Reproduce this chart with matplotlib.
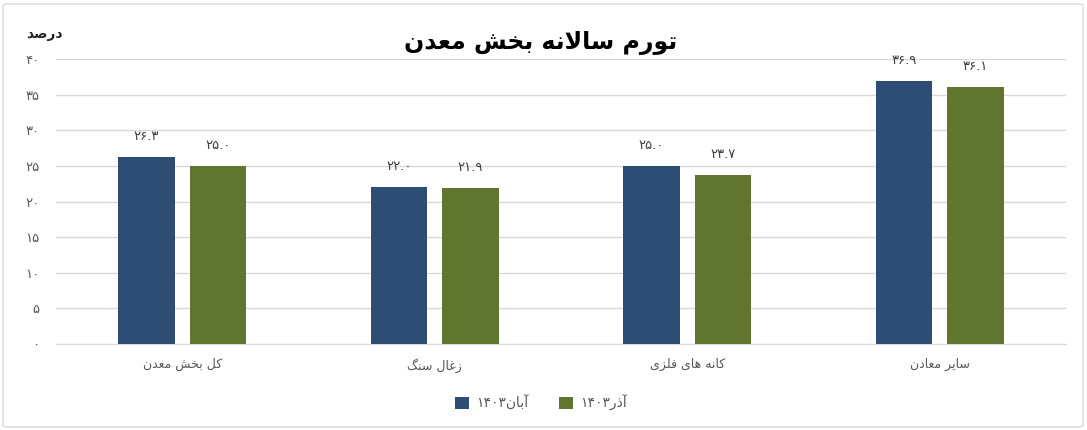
import matplotlib
matplotlib.use("Agg")
import matplotlib.pyplot as plt
import numpy as np
from matplotlib.patches import FancyBboxPatch, Patch

plt.rcParams['font.family'] = ['DejaVu Sans']

# ---------------- data ----------------
categories = ["کل بخش معدن", "زغال سنگ", "کانه های فلزی", "سایر معادن"]
aban_1403 = [26.3, 22.0, 25.0, 36.9]
azar_1403 = [25.0, 21.9, 23.7, 36.1]
series_names = ["آبان", "آذر"]
series_year = "1403"
yticks = [0, 5, 10, 15, 20, 25, 30, 35, 40]
title_text = "تورم سالانه بخش معدن"
ylabel_text = "درصد"

# ------------- minimal Persian shaping (presentation forms, visual order) -------------
FORMS = {
    '\u0622': ('\uFE81', '\uFE82', None, None),
    '\u0627': ('\uFE8D', '\uFE8E', None, None),
    '\u0628': ('\uFE8F', '\uFE90', '\uFE91', '\uFE92'),
    '\u062A': ('\uFE95', '\uFE96', '\uFE97', '\uFE98'),
    '\u062E': ('\uFEA5', '\uFEA6', '\uFEA7', '\uFEA8'),
    '\u062F': ('\uFEA9', '\uFEAA', None, None),
    '\u0630': ('\uFEAB', '\uFEAC', None, None),
    '\u0631': ('\uFEAD', '\uFEAE', None, None),
    '\u0632': ('\uFEAF', '\uFEB0', None, None),
    '\u0633': ('\uFEB1', '\uFEB2', '\uFEB3', '\uFEB4'),
    '\u0634': ('\uFEB5', '\uFEB6', '\uFEB7', '\uFEB8'),
    '\u0635': ('\uFEB9', '\uFEBA', '\uFEBB', '\uFEBC'),
    '\u0639': ('\uFEC9', '\uFECA', '\uFECB', '\uFECC'),
    '\u063A': ('\uFECD', '\uFECE', '\uFECF', '\uFED0'),
    '\u0641': ('\uFED1', '\uFED2', '\uFED3', '\uFED4'),
    '\u0644': ('\uFEDD', '\uFEDE', '\uFEDF', '\uFEE0'),
    '\u0645': ('\uFEE1', '\uFEE2', '\uFEE3', '\uFEE4'),
    '\u0646': ('\uFEE5', '\uFEE6', '\uFEE7', '\uFEE8'),
    '\u0647': ('\uFEE9', '\uFEEA', '\uFEEB', '\uFEEC'),
    '\u0648': ('\uFEED', '\uFEEE', None, None),
    '\u06A9': ('\uFB8E', '\uFB8F', '\uFB90', '\uFB91'),
    '\u06AF': ('\uFB92', '\uFB93', '\uFB94', '\uFB95'),
    '\u06CC': ('\uFBFC', '\uFBFD', '\uFBFE', '\uFBFF'),
}


def shape(text):
    chars = list(text)
    tokens = []
    i = 0
    while i < len(chars):
        c = chars[i]
        if c == '\u0644' and i + 1 < len(chars) and chars[i + 1] in ('\u0627', '\u0622'):
            tokens.append('LA' + chars[i + 1])
            i += 2
        else:
            tokens.append(c)
            i += 1
    res = []
    for k, t in enumerate(tokens):
        prev = tokens[k - 1] if k > 0 else None
        nxt = tokens[k + 1] if k + 1 < len(tokens) else None
        prev_conn = prev is not None and prev in FORMS and FORMS[prev][2] is not None
        if t.startswith('LA'):
            iso, fin = ('\uFEFB', '\uFEFC') if t[2] == '\u0627' else ('\uFEF5', '\uFEF6')
            res.append(fin if prev_conn else iso)
            continue
        if t not in FORMS:
            res.append(t)
            continue
        iso, fin, ini, med = FORMS[t]
        next_conn = ini is not None and nxt is not None and (nxt in FORMS or nxt.startswith('LA'))
        if prev_conn and next_conn:
            res.append(med)
        elif prev_conn:
            res.append(fin)
        elif next_conn:
            res.append(ini)
        else:
            res.append(iso)
    return ''.join(reversed(res))


def fa_digits(s):
    return s.translate(str.maketrans('0123456789', '۰۱۲۳۴۵۶۷۸۹'))


# ---------------- figure ----------------
W, H = 1087, 430
fig = plt.figure(figsize=(W / 100, H / 100), dpi=100)
fig.patch.set_facecolor('white')

border = FancyBboxPatch((3 / W, 3 / H), 1 - 7 / W, 1 - 7 / H,
                        boxstyle="round,pad=0,rounding_size=0.004",
                        transform=fig.transFigure, facecolor='none',
                        edgecolor='#D9D9D9', linewidth=1.0, zorder=-1)
fig.patches.append(border)

ax = fig.add_axes([56 / W, 1 - 344 / H, (1066 - 56) / W, (344 - 59) / H])
ax.set_facecolor('none')
ax.set_zorder(2)

blue = '#2E4D74'
green = '#5F7530'
x = np.arange(len(categories))
bw = 0.224
off = 0.142
b1 = ax.bar(x - off, aban_1403, bw, color=blue, zorder=3)
b2 = ax.bar(x + off, azar_1403, bw, color=green, zorder=3)

for bars, vals in ((b1, aban_1403), (b2, azar_1403)):
    for b, v in zip(bars, vals):
        ax.annotate(fa_digits(f"{v:.1f}"), (b.get_x() + b.get_width() / 2, v),
                    xytext=(0, 10), textcoords='offset points', ha='center', va='bottom',
                    fontsize=9.5, color='#404040')

ax.set_xlim(-0.5, len(categories) - 0.5)
ax.set_ylim(0, 40)
ax.set_yticks(yticks)
ax.set_yticklabels([fa_digits(str(t)) for t in yticks], fontsize=9.5, color='#595959')
ax.set_xticks(x)
ax.set_xticklabels([shape(c) for c in categories], fontsize=9, color='#595959')
ax.tick_params(axis='y', length=0, pad=12)
ax.tick_params(axis='x', length=0, pad=10)
ax.grid(axis='y', color='#D9D9D9', linewidth=1.0, zorder=0)
ax.set_axisbelow(True)
for s in ('left', 'right', 'top'):
    ax.spines[s].set_visible(False)
ax.spines['bottom'].set_color('#D9D9D9')

fig.text(541 / W, 1 - 43 / H, shape(title_text), ha='center', va='center',
         fontsize=17, fontweight='bold', color='black')
fig.text(44 / W, 1 - 34 / H, shape(ylabel_text), ha='center', va='center',
         fontsize=10, fontweight='bold', color='#262626')

handles = [Patch(facecolor=blue), Patch(facecolor=green)]
labels = [fa_digits(series_year) + shape(n) for n in series_names]
fig.legend(handles, labels, loc='center', bbox_to_anchor=(541 / W, 1 - 403 / H), ncol=2,
           frameon=False, fontsize=10, handlelength=1.0, handleheight=1.0,
           handletextpad=0.5, columnspacing=2.2, labelcolor='#595959')

fig.savefig('out.png', dpi=100)
